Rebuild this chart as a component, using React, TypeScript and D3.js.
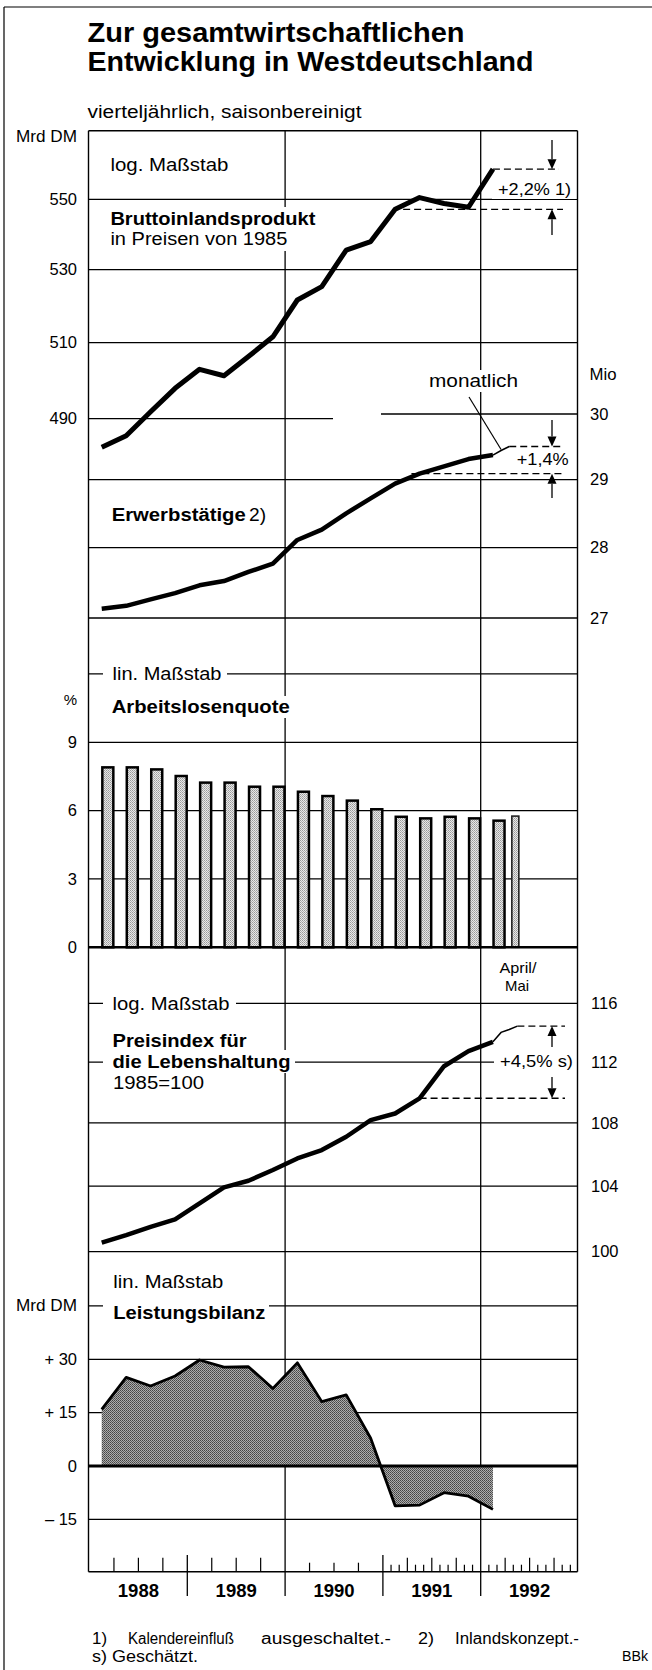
import React from "react";
import * as d3 from "d3";

// quarterly data, 1988 Q1 .. 1992 Q1
const quarters = [
  "1988Q1", "1988Q2", "1988Q3", "1988Q4",
  "1989Q1", "1989Q2", "1989Q3", "1989Q4",
  "1990Q1", "1990Q2", "1990Q3", "1990Q4",
  "1991Q1", "1991Q2", "1991Q3", "1991Q4",
  "1992Q1",
];
const years = [1988, 1989, 1990, 1991, 1992];

// Bruttoinlandsprodukt, Mrd DM (log)
const gdp = [482.7, 485.6, 491.8, 497.9, 502.9, 501.2, 506.3, 511.6, 521.6, 525.3, 535.5, 537.9, 547.1, 550.5, 548.8, 547.7, 558.8];
const gdpTicks = [550, 530, 510, 490];

// Erwerbstätige, Mio (log)
const employed = [27.13, 27.17, 27.26, 27.35, 27.46, 27.52, 27.65, 27.77, 28.11, 28.26, 28.5, 28.72, 28.94, 29.09, 29.2, 29.31, 29.37];
const employedMonths = ["1992-02", "1992-03", "1992-04"];
const employedMonthly = [29.37, 29.44, 29.5];
const employedBase = { month: "1991-04", value: 29.09 };
const employedTicks = [30, 29, 28, 27];

// Arbeitslosenquote, %
const unemployment = [7.9, 7.9, 7.81, 7.52, 7.23, 7.23, 7.05, 7.05, 6.83, 6.64, 6.44, 6.06, 5.73, 5.66, 5.73, 5.66, 5.56];
const unemploymentAprMay = 5.76;
const unemploymentTicks = [9, 6, 3, 0];

// Preisindex für die Lebenshaltung, 1985=100 (log)
const prices = [100.54, 101.0, 101.5, 101.95, 102.93, 103.92, 104.33, 105.0, 105.73, 106.26, 107.11, 108.18, 108.61, 109.59, 111.72, 112.73, 113.36];
const priceMonths = ["1992-02", "1992-03", "1992-04", "1992-05"];
const priceMonthly = [113.36, 114.0, 114.2, 114.43];
const priceBase = { month: "1991-05", value: 109.6 };
const priceTicks = [116, 112, 108, 104, 100];

// Leistungsbilanz, Mrd DM
const currentAccount = [15.9, 24.9, 22.5, 25.3, 29.8, 27.8, 27.9, 21.8, 29.0, 18.1, 20.0, 7.8, -11.2, -11.0, -7.5, -8.5, -12.2];
const caTicks = [30, 15, 0, -15];
const caTickLabels = ["+ 30", "+ 15", "0", "– 15"];

const W = 652;
const H = 1670;
const FONT = "'Liberation Sans', Arimo, Arial, Helvetica, sans-serif";
const frame = { left: 88.5, right: 577.5, top: 130.7, bottom: 1571.7 };

const x = d3.scaleLinear().domain([1988, 1993]).range([89.5, 578.5]);
const qTime = (q: string) => {
  const [yr, n] = q.split("Q").map(Number);
  return yr + (n - 1) / 4;
};
const qx = (q: string) => x(qTime(q) + 0.125);
const mx = (m: string) => {
  const [yr, n] = m.split("-").map(Number);
  return x(yr + (n - 1) / 12 + 1 / 24);
};

const yGdp = d3.scaleLog().domain([550, 490]).range([199.3, 418.7]);
const yEmp = d3.scaleLog().domain([30, 27]).range([414, 618]);
const yUnemp = d3.scaleLinear().domain([0, 9]).range([947.3, 742.3]);
const yPrice = d3.scaleLog().domain([116, 100]).range([1003.3, 1251.7]);
const yCa = d3.scaleLinear().domain([0, 30]).range([1466, 1359.3]);

const qLine = (scale: (v: number) => number) =>
  d3.line<number>().x((_, i) => qx(quarters[i])).y((d) => scale(d));

const LBL = 17.5; // panel label size

const Txt = ({ x, y, children, size = 16.5, bold = false, anchor = "start", len }: any) => (
  <text
    x={x}
    y={y}
    dy="0.35em"
    fontSize={size}
    fontWeight={bold ? "bold" : "normal"}
    textAnchor={anchor}
    textLength={len}
    lengthAdjust={len ? "spacingAndGlyphs" : undefined}
  >
    {children}
  </text>
);

const Arrow = ({ x, from, tip }: { x: number; from: number; tip: number }) => {
  const dir = tip > from ? 1 : -1;
  const h = 10;
  const w = 4.5;
  return (
    <g>
      <line x1={x} x2={x} y1={from} y2={tip - dir * h} stroke="#000" strokeWidth={1.3} />
      <path d={`M${x},${tip}L${x - w},${tip - dir * h}L${x + w},${tip - dir * h}Z`} fill="#000" />
    </g>
  );
};

const HLine = ({ y, x1 = frame.left, x2 = frame.right, w = 1.3 }: any) => (
  <line x1={x1} x2={x2} y1={y} y2={y} stroke="#000" strokeWidth={w} />
);

export default function App() {
  const gdpPath = qLine(yGdp)(gdp);
  const empPath = qLine(yEmp)(employed);
  const pricePath = qLine(yPrice)(prices);
  const empThin = d3.line<number>().x((_, i) => mx(employedMonths[i])).y((d) => yEmp(d))(employedMonthly);
  const priceThin = d3.line<number>().x((_, i) => mx(priceMonths[i])).y((d) => yPrice(d))(priceMonthly);
  const caArea = d3
    .area<number>()
    .x((_, i) => qx(quarters[i]))
    .y0(yCa(0))
    .y1((d) => yCa(d))(currentAccount);
  const caLine = qLine(yCa)(currentAccount);

  const arrowX = 552;
  const dashEnd = 563;

  // bottom axis ticks
  const ticks: { t: number; h: number }[] = [];
  [1988, 1989].forEach((yr) => [1, 2, 3].forEach((q) => ticks.push({ t: yr + q / 4, h: 14 })));
  [1990].forEach((yr) => [1, 2, 3].forEach((q) => ticks.push({ t: yr + q / 4, h: 9 })));
  [1991, 1992].forEach((yr) =>
    d3.range(1, 12).forEach((m) => ticks.push({ t: yr + m / 12, h: m % 3 === 0 ? 14 : 7 }))
  );

  const gdpLast = gdp[gdp.length - 1];
  const gdpBase = gdp[12];
  const empLast = employedMonthly[employedMonthly.length - 1];
  const priceLast = priceMonthly[priceMonthly.length - 1];

  return (
    <svg
      width={W}
      height={H}
      viewBox={`0 0 ${W} ${H}`}
      style={{ position: "absolute", left: 0, top: 0, background: "#fff", fontFamily: FONT }}
    >
      <defs>
        <pattern id="light" width={2} height={2} patternUnits="userSpaceOnUse">
          <rect width={2} height={2} fill="#e8e8e8" />
          <rect width={1} height={1} fill="#9a9a9a" />
          <rect x={1} y={1} width={1} height={1} fill="#b0b0b0" />
        </pattern>
        <pattern id="dark" width={2} height={2} patternUnits="userSpaceOnUse">
          <rect width={2} height={2} fill="#adadad" />
          <rect width={1} height={1} fill="#444" />
          <rect x={1} y={1} width={1} height={1} fill="#5a5a5a" />
        </pattern>
      </defs>

      {/* outer border */}
      <line x1={4} x2={4} y1={7} y2={H} stroke="#000" strokeWidth={1.2} />
      <line x1={4} x2={W} y1={7} y2={7} stroke="#000" strokeWidth={1.2} />

      {/* horizontal grid */}
      {gdpTicks.map((v) =>
        v === 490 ? <HLine key={v} y={yGdp(v)} x2={333} /> : <HLine key={v} y={yGdp(v)} />
      )}
      {employedTicks.map((v) =>
        v === 30 ? <HLine key={v} y={yEmp(v)} x1={381} /> : <HLine key={v} y={yEmp(v)} />
      )}
      <HLine y={yUnemp(12)} />
      {unemploymentTicks.map((v) => <HLine key={v} y={yUnemp(v)} />)}
      {priceTicks.map((v) => <HLine key={v} y={yPrice(v)} />)}
      <HLine y={yCa(45)} />
      {caTicks.map((v) => <HLine key={v} y={yCa(v)} />)}

      {/* vertical grid and year separators */}
      {[1990, 1992].map((yr) => (
        <line key={yr} x1={x(yr)} x2={x(yr)} y1={frame.top} y2={1596} stroke="#000" strokeWidth={1.3} />
      ))}
      {[1989, 1991].map((yr) => (
        <line key={yr} x1={x(yr)} x2={x(yr)} y1={1555} y2={1596} stroke="#000" strokeWidth={1.3} />
      ))}
      {ticks.map((d, i) => (
        <line key={i} x1={x(d.t)} x2={x(d.t)} y1={frame.bottom} y2={frame.bottom - d.h} stroke="#000" strokeWidth={1.2} />
      ))}

      {/* Arbeitslosenquote bars */}
      {unemployment.map((v, i) => {
        const cx = x(qTime(quarters[i]) + 0.1875);
        return (
          <rect
            key={i}
            x={cx - 5.5}
            width={11}
            y={yUnemp(v)}
            height={yUnemp(0) - yUnemp(v)}
            fill="url(#light)"
            stroke="#000"
            strokeWidth={2.5}
          />
        );
      })}
      <rect
        x={x(1992 + 4.25 / 12) - 3.5}
        width={7}
        y={yUnemp(unemploymentAprMay)}
        height={yUnemp(0) - yUnemp(unemploymentAprMay)}
        fill="url(#light)"
        stroke="#222"
        strokeWidth={1.6}
      />

      {/* Leistungsbilanz area */}
      <path d={caArea!} fill="url(#dark)" />
      <path d={caLine!} fill="none" stroke="#000" strokeWidth={2.8} strokeLinejoin="round" />

      {/* white label boxes */}
      {[
        [106, 207, 216, 44],
        [424, 370, 100, 22],
        [492, 180, 85, 19],
        [512, 450, 60, 19],
        [103, 664, 124, 20],
        [106, 696, 188, 22],
        [103, 994, 133, 19],
        [103, 1050, 192, 23],
        [494, 1052, 83, 20],
        [103, 1298, 166, 24],
      ].map(([bx, by, bw, bh], i) => (
        <rect key={i} x={bx} y={by} width={bw} height={bh} fill="#fff" />
      ))}

      {/* frame */}
      <line x1={frame.left} x2={frame.left} y1={frame.top} y2={frame.bottom} stroke="#000" strokeWidth={1.4} />
      <line x1={frame.right} x2={frame.right} y1={frame.top} y2={frame.bottom} stroke="#000" strokeWidth={1.4} />
      <HLine y={frame.top} w={1.4} />
      <HLine y={frame.bottom} w={1.6} />
      <HLine y={yUnemp(0)} w={2.6} />
      <HLine y={yCa(0)} w={3} />

      {/* data lines */}
      <path d={gdpPath!} fill="none" stroke="#000" strokeWidth={5} strokeLinejoin="round" />
      <path d={empPath!} fill="none" stroke="#000" strokeWidth={4.5} strokeLinejoin="round" />
      <path d={empThin!} fill="none" stroke="#000" strokeWidth={1.5} />
      <path d={pricePath!} fill="none" stroke="#000" strokeWidth={4.5} strokeLinejoin="round" />
      <path d={priceThin!} fill="none" stroke="#000" strokeWidth={1.5} />

      {/* change markers */}
      <g stroke="#000" strokeWidth={1.4} strokeDasharray="7 4">
        <line x1={qx(quarters[12]) + 8} x2={dashEnd} y1={yGdp(gdpBase)} y2={yGdp(gdpBase)} />
        <line x1={qx(quarters[16])} x2={dashEnd - 4} y1={yGdp(gdpLast)} y2={yGdp(gdpLast)} />
        <line x1={mx(employedBase.month)} x2={dashEnd + 2} y1={yEmp(employedBase.value)} y2={yEmp(employedBase.value)} />
        <line x1={mx(employedMonths[employedMonths.length - 1])} x2={dashEnd} y1={yEmp(empLast)} y2={yEmp(empLast)} />
        <line x1={mx(priceBase.month)} x2={dashEnd + 2} y1={yPrice(priceBase.value)} y2={yPrice(priceBase.value)} />
        <line x1={mx(priceMonths[priceMonths.length - 1])} x2={dashEnd + 2} y1={yPrice(priceLast)} y2={yPrice(priceLast)} />
      </g>
      <Arrow x={arrowX} from={140} tip={yGdp(gdpLast)} />
      <Arrow x={arrowX} from={235} tip={yGdp(gdpBase)} />
      <Arrow x={arrowX} from={420} tip={yEmp(empLast)} />
      <Arrow x={arrowX} from={498} tip={yEmp(employedBase.value)} />
      <Arrow x={arrowX} from={1047} tip={yPrice(priceLast)} />
      <Arrow x={arrowX} from={1077} tip={yPrice(priceBase.value)} />
      <line x1={469} y1={397} x2={mx("1992-03")} y2={yEmp(employedMonthly[1]) - 1} stroke="#000" strokeWidth={1.2} />

      {/* titles */}
      <Txt x={87.5} y={32} size={28} bold len={377}>Zur gesamtwirtschaftlichen</Txt>
      <Txt x={87.5} y={61} size={28} bold len={446}>Entwicklung in Westdeutschland</Txt>
      <Txt x={87.5} y={112} size={17.5} len={274}>vierteljährlich, saisonbereinigt</Txt>

      {/* left axis labels */}
      <Txt x={77} y={136.7} anchor="end" len={61}>Mrd DM</Txt>
      {gdpTicks.map((v) => (
        <Txt key={v} x={77} y={yGdp(v)} anchor="end">{String(v)}</Txt>
      ))}
      <Txt x={77} y={700} size={15} anchor="end">%</Txt>
      {unemploymentTicks.map((v) => (
        <Txt key={v} x={77} y={yUnemp(v)} anchor="end">{String(v)}</Txt>
      ))}
      <Txt x={77} y={1305.5} anchor="end" len={61}>Mrd DM</Txt>
      {caTicks.map((v, i) => (
        <Txt key={v} x={77} y={yCa(v)} anchor="end">{caTickLabels[i]}</Txt>
      ))}

      {/* right axis labels */}
      <Txt x={589.6} y={374} len={27}>Mio</Txt>
      {employedTicks.map((v) => (
        <Txt key={v} x={590} y={yEmp(v)}>{String(v)}</Txt>
      ))}
      {priceTicks.map((v) => (
        <Txt key={v} x={591} y={yPrice(v)}>{String(v)}</Txt>
      ))}

      {/* panel labels */}
      <Txt x={110.4} y={165} size={LBL} len={118}>log. Maßstab</Txt>
      <Txt x={110.4} y={219} size={LBL} bold len={205}>Bruttoinlandsprodukt</Txt>
      <Txt x={110.4} y={239} size={LBL} len={177}>in Preisen von 1985</Txt>
      <Txt x={498} y={189} size={16} len={73}>+2,2% 1)</Txt>
      <Txt x={429} y={381} size={LBL} len={89}>monatlich</Txt>
      <Txt x={516.7} y={459} size={16} len={52}>+1,4%</Txt>
      <Txt x={111.7} y={515} size={LBL} bold len={134}>Erwerbstätige</Txt>
      <Txt x={249} y={515} size={LBL} len={17}>2)</Txt>
      <Txt x={112.5} y={674} size={LBL} len={109}>lin. Maßstab</Txt>
      <Txt x={111.7} y={707} size={LBL} bold len={178}>Arbeitslosenquote</Txt>
      <Txt x={518} y={968} size={14.5} anchor="middle" len={37}>April/</Txt>
      <Txt x={517} y={986} size={14.5} anchor="middle" len={24}>Mai</Txt>
      <Txt x={112.5} y={1003.5} size={LBL} len={117}>log. Maßstab</Txt>
      <Txt x={112.5} y={1041} size={LBL} bold len={134}>Preisindex für</Txt>
      <Txt x={112.5} y={1061.5} size={LBL} bold len={178}>die Lebenshaltung</Txt>
      <Txt x={113} y={1082.5} size={LBL} len={91}>1985=100</Txt>
      <Txt x={500} y={1061.5} size={16} len={73}>+4,5% s)</Txt>
      <Txt x={113.3} y={1281.5} size={LBL} len={110}>lin. Maßstab</Txt>
      <Txt x={113.3} y={1313} size={LBL} bold len={152}>Leistungsbilanz</Txt>

      {/* year labels */}
      {years.map((yr) => (
        <Txt key={yr} x={x(yr + 0.5)} y={1591} size={18.5} bold anchor="middle">{String(yr)}</Txt>
      ))}

      {/* footnotes */}
      <Txt x={92} y={1638} size={16} len={15}>1)</Txt>
      <Txt x={128} y={1638} size={16} len={106}>Kalendereinfluß</Txt>
      <Txt x={261} y={1638} size={16} len={130}>ausgeschaltet.-</Txt>
      <Txt x={418} y={1638} size={16} len={16}>2)</Txt>
      <Txt x={455} y={1638} size={16} len={124}>Inlandskonzept.-</Txt>
      <Txt x={92} y={1656} size={16} len={106}>s) Geschätzt.</Txt>
      <Txt x={648} y={1656} size={15} anchor="end" len={26}>BBk</Txt>
    </svg>
  );
}
